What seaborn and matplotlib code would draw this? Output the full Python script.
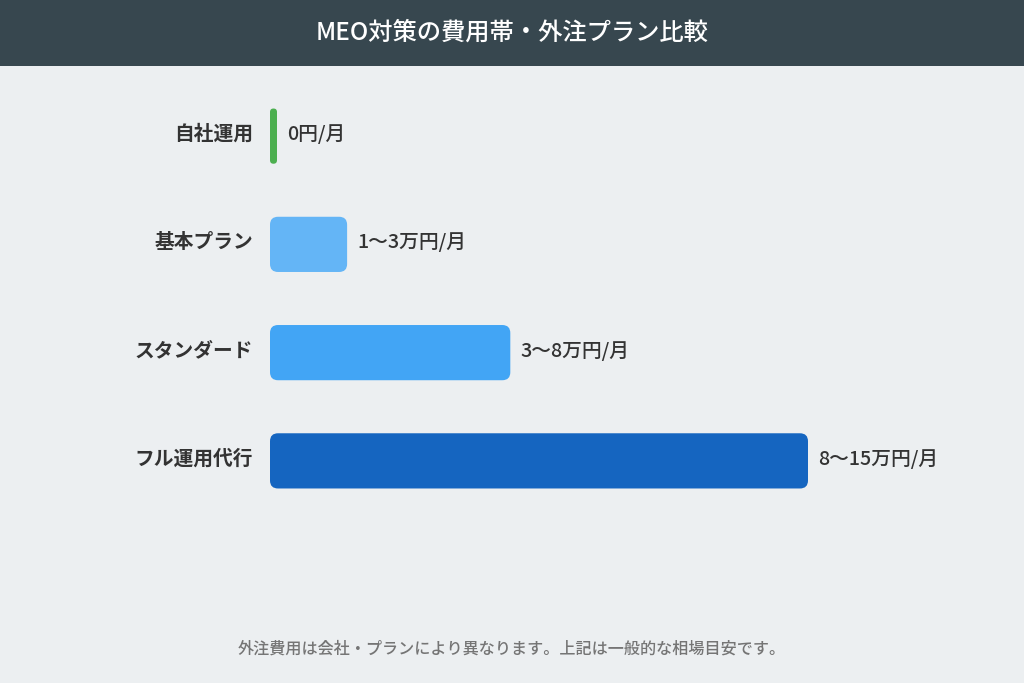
import numpy as np
import pandas as pd
import matplotlib
matplotlib.use("Agg")
import matplotlib.pyplot as plt
import matplotlib.transforms as mtransforms
from matplotlib.patches import FancyBboxPatch, Rectangle
import seaborn as sns

# data
plans = ["自社運用", "基本プラン", "スタンダード", "フル運用代行"]
cost_man_yen = [0, 2.15, 6.7, 15]
cost_labels = ["0円/月", "1〜3万円/月", "3〜8万円/月", "8〜15万円/月"]
bar_colors = ["#4CAF50", "#64B5F6", "#42A5F5", "#1565C0"]

title = "MEO対策の費用帯・外注プラン比較"
note = "外注費用は会社・プランにより異なります。上記は一般的な相場目安です。"

sns.set_theme(style="white")
plt.rcParams["font.family"] = ["Noto Sans CJK JP", "DejaVu Sans"]

bg = "#ECEFF1"
W, H = 1024, 683
fig = plt.figure(figsize=(W / 100, H / 100), dpi=100, facecolor=bg)

# header band
fig.patches.append(Rectangle((0, 1 - 66 / H), 1, 66 / H, transform=fig.transFigure,
                             facecolor="#37474F", edgecolor="none", zorder=0))
fig.text(0.5, 1 - 33 / H, title, ha="center", va="center", color="white",
         fontsize=17.5, fontweight="medium")

# axes placement in pixels
left, right = 270, 880
top, bottom = 82, 515
ax = fig.add_axes([left / W, 1 - bottom / H, (right - left) / W, (bottom - top) / H])
ax.set_facecolor(bg)

x_max = 15 * (right - left) / 538
min_w = 7 / ((right - left) / x_max)
df = pd.DataFrame({"plan": plans, "cost": [max(v, min_w) for v in cost_man_yen]})

sns.barplot(data=df, y="plan", x="cost", hue="plan", palette=bar_colors,
            orient="h", width=0.51, legend=False, saturation=1, ax=ax)
ax.set_xlim(0, x_max)
ax.set_ylim(len(plans) - 0.5, -0.5)
for s in ax.spines.values():
    s.set_visible(False)
ax.set_xticks([])
ax.set_xlabel("")
ax.set_ylabel("")
ax.tick_params(axis="y", length=0, pad=12)
shift_up = mtransforms.ScaledTranslation(0, 4 / 100, fig.dpi_scale_trans)
for t in ax.get_yticklabels():
    t.set_fontsize(14.2)
    t.set_fontweight("bold")
    t.set_color("#333333")
    t.set_transform(t.get_transform() + shift_up)

# replace bars with rounded ones
px_x = (right - left) / x_max
px_y = (bottom - top) / len(plans)
val_shift = ax.transData + mtransforms.ScaledTranslation(0, 2 / 100, fig.dpi_scale_trans)
bars = list(ax.patches)
for p in bars:
    x0, y0, w, h = p.get_x(), p.get_y(), p.get_width(), p.get_height()
    r_px = min(8, w * px_x / 2)
    fb = FancyBboxPatch((x0, y0), w, h,
                        boxstyle=f"round,pad=0,rounding_size={r_px / px_x}",
                        mutation_aspect=px_x / px_y,
                        facecolor=p.get_facecolor(), edgecolor="none")
    p.remove()
    ax.add_patch(fb)
    yc = y0 + h / 2
    i = int(round(yc))
    ax.text(x0 + w + 10 / px_x, yc, cost_labels[i], ha="left", va="center",
            fontsize=14.2, color="#333333", fontweight="medium",
            transform=val_shift)

fig.text(0.5, 1 - 649 / H, note, ha="center", va="center", color="#757575",
         fontsize=11.6, fontweight="medium")

fig.savefig("out.png", dpi=100, facecolor=bg)
